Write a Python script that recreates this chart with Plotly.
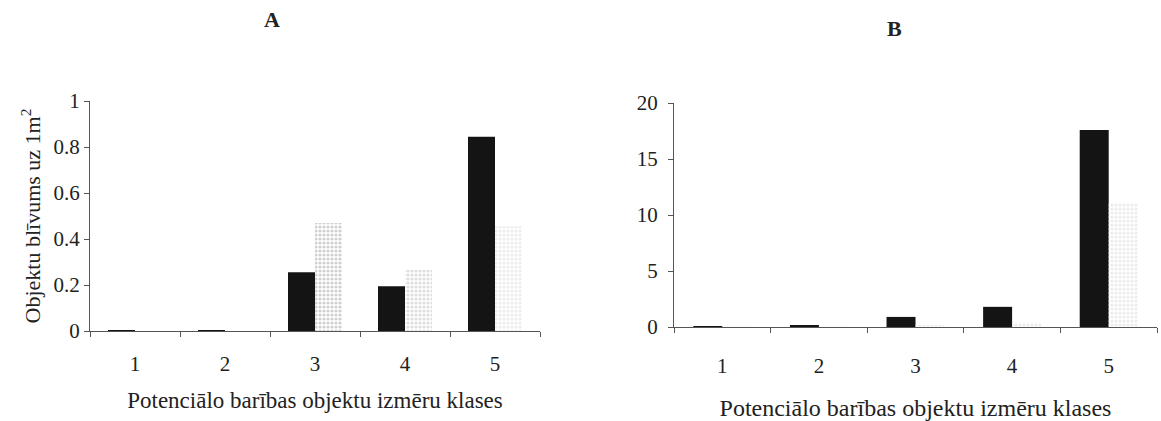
import plotly.graph_objects as go

categories = ["1", "2", "3", "4", "5"]
a_dark = [0.003, 0.002, 0.255, 0.195, 0.845]
a_light = [0.0, 0.0, 0.47, 0.265, 0.455]
b_dark = [0.05, 0.15, 0.9, 1.8, 17.6]
b_light = [0.02, 0.05, 0.1, 0.4, 11.1]

FONT = "Liberation Serif"
DARK = "#141414"

def light_marker(fg, bg):
    return dict(color=bg,
                pattern=dict(shape=".", fgcolor=fg, bgcolor=bg, size=4, solidity=0.5),
                line=dict(width=0))

fig = go.Figure()
fig.add_bar(x=categories, y=a_dark, marker=dict(color=DARK, line=dict(width=0)), xaxis="x", yaxis="y", showlegend=False)
fig.add_bar(x=categories, y=a_light,
            marker=light_marker(["#888", "#888", "#7a7a7a", "#999999", "#b0b0b0"],
                                ["#d8d8d8", "#d8d8d8", "#d0d0d0", "#dedede", "#ececec"]),
            xaxis="x", yaxis="y", showlegend=False)
fig.add_bar(x=categories, y=b_dark, marker=dict(color=DARK, line=dict(width=0)), xaxis="x2", yaxis="y2", showlegend=False)
fig.add_bar(x=categories, y=b_light,
            marker=light_marker(["#aaaaaa"] * 5, ["#ececec"] * 5),
            xaxis="x2", yaxis="y2", showlegend=False)

axis_common = dict(showline=True, linecolor="#555", linewidth=1, ticks="outside", ticklen=5,
                   tickcolor="#555", showgrid=False, zeroline=False, automargin=False,
                   tickfont=dict(family=FONT, size=21, color="#222"))

fig.update_layout(
    template="none",
    width=1161, height=421,
    margin=dict(l=0, r=0, t=0, b=0, pad=0),
    paper_bgcolor="white", plot_bgcolor="white",
    barmode="group", bargap=0.4, bargroupgap=0,
    font=dict(family=FONT, color="#222"),
    xaxis=dict(domain=[90/1161, 540/1161], anchor="y", tickson="boundaries", type="category",
               ticklabelstandoff=14,
               title=dict(text="Potenciālo barības objektu izmēru klases", font=dict(family=FONT, size=23), standoff=16),
               **axis_common),
    yaxis=dict(domain=[(421-331)/421, (421-101)/421], anchor="x", range=[0, 1],
               tickvals=[0, 0.2, 0.4, 0.6, 0.8, 1], ticktext=["0", "0.2", "0.4", "0.6", "0.8", "1"],
               title=dict(text="Objektu blīvums uz 1m<sup>2</sup>", font=dict(family=FONT, size=22), standoff=6),
               **axis_common),
    xaxis2=dict(domain=[674/1161, 1157/1161], anchor="y2", tickson="boundaries", type="category",
                ticklabelstandoff=20,
                title=dict(text="Potenciālo barības objektu izmēru klases", font=dict(family=FONT, size=24), standoff=24),
                **axis_common),
    yaxis2=dict(domain=[(421-327)/421, (421-103)/421], anchor="x2", range=[0, 20],
                tickvals=[0, 5, 10, 15, 20], ticklabelstandoff=6,
                **axis_common),
    annotations=[
        dict(text="<b>A</b>", x=272/1161, y=1-19/421, xref="paper", yref="paper", showarrow=False,
             xanchor="center", yanchor="middle",
             font=dict(family=FONT, size=22, color="#222")),
        dict(text="<b>B</b>", x=895/1161, y=1-28/421, xref="paper", yref="paper", showarrow=False,
             xanchor="center", yanchor="middle",
             font=dict(family=FONT, size=22, color="#222")),
    ],
)

fig.write_html("out.html")
